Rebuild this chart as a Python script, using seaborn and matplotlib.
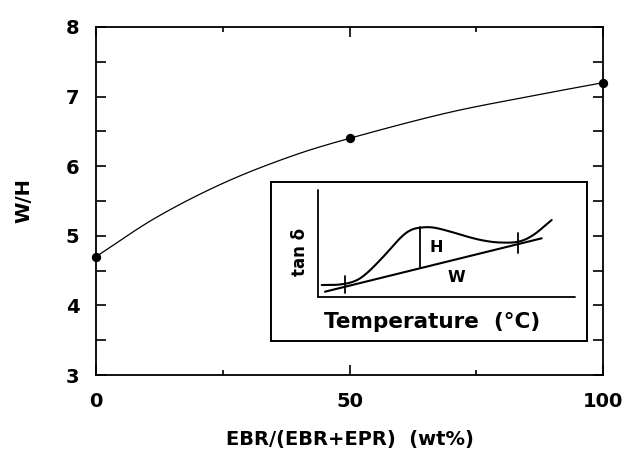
import numpy as np
import pandas as pd
import matplotlib
matplotlib.use("Agg")
import matplotlib.pyplot as plt
from matplotlib.ticker import FixedLocator, FuncFormatter
import seaborn as sns

# ---- data ----
ebr_pct = [0, 50, 100]
wh_ratio = [4.70, 6.40, 7.20]

# points
curve_x = [0, 11.8, 24.9, 38.0, 50, 68.9, 85.3, 100]
curve_y = [4.70, 5.26, 5.75, 6.13, 6.40, 6.76, 7.00, 7.20]

x_major = [0, 50, 100]
x_minor = [25, 75]
y_ticks = [3, 3.5, 4, 4.5, 5, 5.5, 6, 6.5, 7, 7.5, 8]

# inset schematic (tan delta vs temperature), read points in inset units
tand_x = [321.7, 340.0, 355.0, 367.0, 383.3, 400.0, 410.0, 420.0, 433.0, 450.0, 466.7, 483.3,
          500.0, 518.3, 533.3, 551.7]
tand_y = [285.0, 284.5, 281.0, 273.0, 256.7, 238.3, 230.5, 227.7, 227.5, 231.5, 236.5, 240.5,
          242.5, 241.7, 235.0, 220.0]
base_x = [325.0, 541.7]
base_y = [291.7, 238.3]
h_x = [420.0, 420.0]
h_y = [227.5, 268.0]
cross1_x = [345.0, 345.0]
cross1_y = [276.0, 292.7]
cross2_x = [518.3, 518.3]
cross2_y = [233.3, 253.3]
axis_v_x = [318.0, 318.0]
axis_v_y = [190.0, 297.0]
axis_h_x = [318.0, 575.0]
axis_h_y = [297.0, 297.0]


def smooth(xs, ys, n=30):
    """Catmull-Rom rendering of a polyline through the given points."""
    p = np.column_stack([xs, ys]).astype(float)
    p = np.vstack([2 * p[0] - p[1], p, 2 * p[-1] - p[-2]])
    out = []
    t = np.linspace(0, 1, n, endpoint=False)[:, None]
    for i in range(1, len(p) - 2):
        p0, p1, p2, p3 = p[i - 1], p[i], p[i + 1], p[i + 2]
        seg = 0.5 * ((2 * p1) + (-p0 + p2) * t + (2 * p0 - 5 * p1 + 4 * p2 - p3) * t ** 2
                     + (-p0 + 3 * p1 - 3 * p2 + p3) * t ** 3)
        out.append(seg)
    out.append(p[-2][None, :])
    out = np.vstack(out)
    return out[:, 0], out[:, 1]


sns.set_style("ticks")
plt.rcParams['font.family'] = ['DejaVu Sans']
plt.rcParams['font.weight'] = 'bold'
plt.rcParams['text.color'] = 'black'
plt.rcParams['axes.labelcolor'] = 'black'
plt.rcParams['xtick.color'] = 'black'
plt.rcParams['ytick.color'] = 'black'
plt.rcParams['xtick.labelcolor'] = 'black'
plt.rcParams['ytick.labelcolor'] = 'black'

fig = plt.figure(figsize=(6.25, 4.51), dpi=100)
ax = fig.add_axes([96 / 625, 1 - 375 / 451, 507 / 625, 348 / 451])

sx, sy = smooth(curve_x, curve_y)
sns.lineplot(x=sx, y=sy, ax=ax, color='black', linewidth=0.9, sort=False, estimator=None)
sns.scatterplot(x=ebr_pct, y=wh_ratio, ax=ax, color='black', s=45, edgecolor='black',
                linewidth=0, zorder=5, clip_on=False)

ax.set_xlim(0, 100)
ax.set_ylim(3, 8)
ax.xaxis.set_major_locator(FixedLocator(x_major))
ax.xaxis.set_minor_locator(FixedLocator(x_minor))
ax.yaxis.set_major_locator(FixedLocator(y_ticks))
ax.yaxis.set_major_formatter(FuncFormatter(lambda v, p: f"{int(v)}" if float(v).is_integer() else ""))
ax.tick_params(which='both', direction='in', top=True, right=True, width=1.2,
               color='black', labelcolor='black')
ax.tick_params(axis='x', which='major', length=7, pad=12, labelsize=14)
ax.tick_params(axis='x', which='minor', length=3.6)
ax.tick_params(axis='y', which='major', length=7, pad=12, labelsize=14)
for s in ax.spines.values():
    s.set_linewidth(1.3)
    s.set_color('black')
    s.set_visible(True)
for lab in ax.get_xticklabels() + ax.get_yticklabels():
    lab.set_fontweight('bold')

ax.set_xlabel('EBR/(EBR+EPR)  (wt%)', fontsize=14, fontweight='bold', labelpad=14, color='black')
ax.set_ylabel('W/H', fontsize=14, fontweight='bold', labelpad=23, color='black')

# ---- inset schematic ----
ins = fig.add_axes([271 / 625, 1 - 341 / 451, 316 / 625, 159 / 451])
ins.set_xlim(271, 587)
ins.set_ylim(341, 182)
ins.set_xticks([])
ins.set_yticks([])
for s in ins.spines.values():
    s.set_linewidth(1.4)
    s.set_color('black')
    s.set_visible(True)
ins.set_facecolor('white')

tx, ty = smooth(tand_x, tand_y)
kw = dict(ax=ins, color='black', sort=False, estimator=None)
sns.lineplot(x=tx, y=ty, linewidth=1.5, **kw)
sns.lineplot(x=base_x, y=base_y, linewidth=1.5, **kw)
sns.lineplot(x=h_x, y=h_y, linewidth=1.3, **kw)
sns.lineplot(x=cross1_x, y=cross1_y, linewidth=1.3, **kw)
sns.lineplot(x=cross2_x, y=cross2_y, linewidth=1.3, **kw)
sns.lineplot(x=axis_v_x, y=axis_v_y, linewidth=1.3, **kw)
sns.lineplot(x=axis_h_x, y=axis_h_y, linewidth=1.3, **kw)

ins.text(436.7, 247.3, 'H', fontsize=11.5, fontweight='bold', ha='center', va='center', color='black')
ins.text(456.7, 277.3, 'W', fontsize=11.5, fontweight='bold', ha='center', va='center', color='black')
ins.text(300, 252, 'tan δ', fontsize=12, fontweight='bold', ha='center', va='center', rotation=90,
         color='black')
ins.text(432, 321.7, 'Temperature  (°C)', fontsize=15.5, fontweight='bold', ha='center', va='center',
         color='black')

fig.savefig('out.png', dpi=100)
